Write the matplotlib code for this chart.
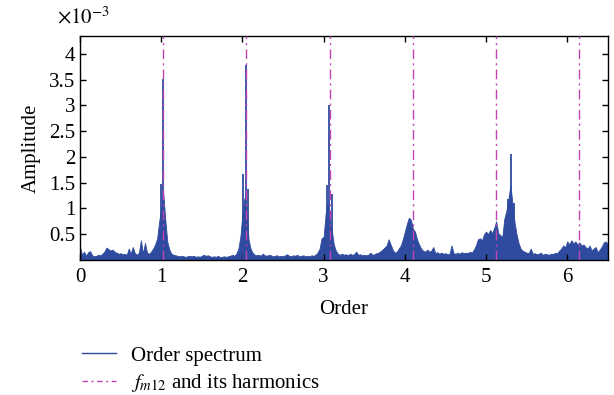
import matplotlib

matplotlib.use("Agg")
import matplotlib.pyplot as plt
import numpy as np
from matplotlib.lines import Line2D

plt.rcParams["font.family"] = ["Liberation Serif", "DejaVu Serif"]
plt.rcParams["mathtext.fontset"] = "stix"

# spectrum envelope, amplitude in units of 1e-3, sampled every 0.025 order
order_step = 0.025
envelope = [
    # 0.000 - 0.975
    0.25, 0.10, 0.16, 0.08, 0.15, 0.17, 0.09, 0.07, 0.08, 0.10,
    0.09, 0.12, 0.16, 0.24, 0.21, 0.18, 0.20, 0.16, 0.14, 0.12,
    0.13, 0.11, 0.12, 0.10, 0.22, 0.12, 0.25, 0.13, 0.10, 0.14,
    0.38, 0.12, 0.33, 0.14, 0.12, 0.16, 0.22, 0.30, 0.42, 0.75,
    # 1.000 - 1.975
    1.00, 1.30, 0.78, 0.35, 0.20, 0.12, 0.10, 0.09, 0.08, 0.07,
    0.08, 0.07, 0.06, 0.07, 0.08, 0.07, 0.08, 0.06, 0.07, 0.06,
    0.08, 0.10, 0.08, 0.09, 0.07, 0.06, 0.07, 0.06, 0.08, 0.05,
    0.06, 0.07, 0.06, 0.07, 0.08, 0.10, 0.08, 0.12, 0.22, 0.45,
    # 2.000 - 2.975
    0.90, 1.20, 1.00, 0.40, 0.22, 0.14, 0.10, 0.09, 0.10, 0.08,
    0.12, 0.09, 0.08, 0.10, 0.09, 0.07, 0.08, 0.09, 0.07, 0.08,
    0.07, 0.09, 0.11, 0.08, 0.07, 0.09, 0.08, 0.10, 0.07, 0.08,
    0.09, 0.07, 0.08, 0.07, 0.09, 0.08, 0.10, 0.14, 0.22, 0.42,
    # 3.000 - 3.975
    0.45, 0.90, 1.10, 0.80, 0.58, 0.30, 0.18, 0.12, 0.10, 0.12,
    0.10, 0.11, 0.09, 0.12, 0.10, 0.11, 0.16, 0.10, 0.11, 0.09,
    0.10, 0.09, 0.10, 0.14, 0.10, 0.11, 0.13, 0.14, 0.17, 0.20,
    0.24, 0.28, 0.40, 0.30, 0.20, 0.14, 0.16, 0.22, 0.28, 0.40,
    # 4.000 - 4.975
    0.55, 0.70, 0.82, 0.78, 0.60, 0.55, 0.40, 0.30, 0.22, 0.18,
    0.16, 0.20, 0.16, 0.18, 0.25, 0.13, 0.15, 0.12, 0.14, 0.12,
    0.13, 0.11, 0.12, 0.28, 0.13, 0.12, 0.14, 0.12, 0.15, 0.13,
    0.14, 0.13, 0.16, 0.14, 0.20, 0.28, 0.40, 0.42, 0.38, 0.50,
    # 5.000 - 5.975
    0.55, 0.50, 0.58, 0.52, 0.62, 0.75, 0.52, 0.48, 0.45, 0.80,
    0.95, 1.18, 1.45, 1.10, 0.74, 0.50, 0.33, 0.22, 0.18, 0.16,
    0.14, 0.13, 0.22, 0.12, 0.13, 0.11, 0.12, 0.14, 0.10, 0.12,
    0.11, 0.10, 0.12, 0.11, 0.14, 0.13, 0.18, 0.22, 0.28, 0.25,
    # 6.000 - 6.500
    0.36, 0.30, 0.38, 0.32, 0.36, 0.30, 0.34, 0.28, 0.30, 0.25,
    0.22, 0.28, 0.18, 0.22, 0.25, 0.15, 0.20, 0.26, 0.34, 0.36,
    0.30,
]

# narrow spectral lines on top of the envelope
spike_orders = [0.993, 1.022, 1.050, 2.010, 2.040, 2.065, 3.040, 3.066, 3.105, 5.270, 5.310, 5.340]
spike_amps = [1.48, 3.52, 0.78, 1.67, 3.78, 1.38, 1.45, 3.00, 1.28, 1.18, 2.05, 1.10]

fm12 = 1.0245
harmonic_numbers = [1, 2, 3, 4, 5, 6]

x_ticks = [0, 1, 2, 3, 4, 5, 6]
y_ticks = [0.5, 1, 1.5, 2, 2.5, 3, 3.5, 4]

blue = "#2e4b9f"
magenta = "#c443b2"
fs = 15

orders = np.arange(len(envelope)) * order_step

fig = plt.figure(figsize=(6.14, 3.95), dpi=100)
ax = fig.add_axes([0.1303, 0.342, 0.8597, 0.567])

ax.fill_between(orders, 0, envelope, color=blue, linewidth=0.6, edgecolor=blue)
ax.vlines(spike_orders, 0, spike_amps, color=blue, linewidth=1.3)
for k in harmonic_numbers:
    ax.axvline(k * fm12, color=magenta, linestyle=(0, (7, 3, 1.5, 3)), linewidth=1.0, zorder=3)

ax.set_xlim(0, 6.5)
ax.set_ylim(0, 4.35)
ax.set_xticks(x_ticks)
ax.set_yticks(y_ticks)
ax.set_yticklabels([f"{v:g}" for v in y_ticks])
ax.tick_params(direction="in", top=True, right=True, labelsize=fs, length=4, width=1)
ax.tick_params(axis="x", pad=6)
for spine in ax.spines.values():
    spine.set_linewidth(1.0)
ax.set_xlabel("Order", fontsize=fs, labelpad=9)
ax.set_ylabel("Amplitude", fontsize=fs, labelpad=6)
ax.text(-0.044, 1.035, r"$\times10^{-3}$", transform=ax.transAxes, fontsize=fs,
        ha="left", va="bottom")

handles = [
    Line2D([], [], color=blue, linewidth=1.0),
    Line2D([], [], color=magenta, linewidth=1.0, linestyle=(0, (4, 2.5, 1.5, 2.5))),
]
labels = ["Order spectrum", r"$f_{m12}$ and its harmonics"]
fig.legend(handles, labels, loc="upper left", bbox_to_anchor=(0.120, 0.145),
           frameon=False, fontsize=fs, handlelength=1.65, handletextpad=0.7,
           labelspacing=0.3, borderaxespad=0)

fig.savefig("out.png", dpi=100)
